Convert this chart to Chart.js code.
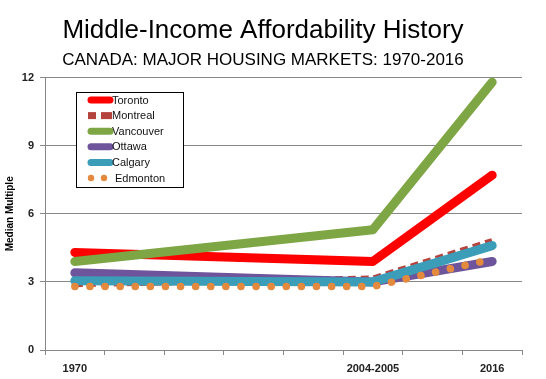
<!DOCTYPE html>
<html><head><meta charset="utf-8">
<script src="https://cdn.jsdelivr.net/npm/chart.js@4/dist/chart.umd.min.js"></script>
<style>html,body{margin:0;padding:0;background:#fff}#wrap{width:546px;height:379px;position:relative}</style>
</head><body><div id="wrap"><canvas id="c" width="546" height="379"></canvas></div>
<script>
const categories = ['1970', '', '', '', '', '2004-2005', '', '2016'];
const toronto   = [4.3, null, null, null, null, 3.9, null, 7.7];
const montreal  = [2.9, null, null, null, null, 3.15, null, 4.8];
const vancouver = [3.9, null, null, null, null, 5.3, null, 11.8];
const ottawa    = [3.4, null, null, null, null, 3.0, null, 3.9];
const calgary   = [3.05, null, null, null, null, 3.0, null, 4.6];
const edmonton  = [2.8, null, null, null, null, 2.8, null, 4.0];
const yTicks = [0, 3, 6, 9, 12];

const series = [
  {label:'Toronto', data:toronto, color:'#FF0000', width:9, dash:[], cap:'round'},
  {label:'Montreal', data:montreal, color:'#B5443F', width:6, dash:[8,5], cap:'butt'},
  {label:'Vancouver', data:vancouver, color:'#7EA645', width:9, dash:[], cap:'round'},
  {label:'Ottawa', data:ottawa, color:'#6E559B', width:9, dash:[], cap:'round'},
  {label:'Calgary', data:calgary, color:'#3C9DB8', width:9, dash:[], cap:'round'},
  {label:'Edmonton', data:edmonton, color:'#E38A3E', width:7.5, dash:[0.1,15], cap:'round'}
];

const legendPlugin = {
  id:'boxLegend',
  afterDraw(chart){
    const ctx = chart.ctx;
    const x0 = 76.5, y0 = 92.5, w = 107, h = 95;
    ctx.save();
    ctx.fillStyle = '#fff';
    ctx.fillRect(x0, y0, w, h);
    ctx.strokeStyle = '#000'; ctx.lineWidth = 1;
    ctx.strokeRect(x0, y0, w, h);
    series.forEach((s, i) => {
      const y = 100 + i * 15.6;
      ctx.strokeStyle = s.color;
      ctx.fillStyle = s.color;
      if (s.label === 'Edmonton') {
        [91, 104].forEach(cx => { ctx.beginPath(); ctx.arc(cx, y, 3.2, 0, Math.PI*2); ctx.fill(); });
      } else if (s.label === 'Montreal') {
        ctx.fillRect(88, y-3.5, 8, 7);
        ctx.fillRect(101, y-3.5, 11, 7);
      } else {
        ctx.lineWidth = 7; ctx.lineCap = 'round';
        ctx.beginPath(); ctx.moveTo(91, y); ctx.lineTo(110, y); ctx.stroke();
      }
      ctx.fillStyle = '#111';
      ctx.font = '11px "Liberation Sans", Arial, sans-serif';
      ctx.textBaseline = 'middle'; ctx.textAlign = 'left';
      ctx.fillText(s.label, s.label === 'Edmonton' ? 115 : 112, y + 0.5);
    });
    ctx.restore();
  }
};

new Chart(document.getElementById('c'), {
  type:'line',
  data:{
    labels:categories,
    datasets: series.map((s, i) => ({
      label:s.label, data:s.data, borderColor:s.color, backgroundColor:s.color,
      borderWidth:s.width, borderDash:s.dash, borderCapStyle:s.cap, borderJoinStyle:'round',
      pointRadius:0, pointHoverRadius:0, spanGaps:true, tension:0, fill:false,
      order: series.length - i
    }))
  },
  options:{
    responsive:false, animation:false,
    layout:{padding:{left:4, right:24, top:0, bottom:0}},
    plugins:{
      legend:{display:false}, tooltip:{enabled:false},
      title:{display:true, text:'Middle-Income Affordability History', color:'#000',
        font:{family:'"Liberation Sans", Arial, sans-serif', size:26, weight:'normal'}, padding:{top:15, bottom:4}},
      subtitle:{display:true, text:'CANADA: MAJOR HOUSING MARKETS: 1970-2016', color:'#000',
        font:{family:'"Liberation Sans", Arial, sans-serif', size:17, weight:'normal'}, padding:{top:0, bottom:7}}
    },
    scales:{
      x:{
        type:'category', offset:true,
        grid:{display:true, drawOnChartArea:false, offset:true, color:'#888', tickLength:5, lineWidth:1},
        border:{display:true, color:'#888', width:1},
        ticks:{color:'#222', autoSkip:false, maxRotation:0, padding:7,
          font:{family:'"Liberation Sans Narrow", "Liberation Sans", Arial, sans-serif', size:11, weight:'bold'}},
        afterFit(scale){ scale.height = 29; }
      },
      y:{
        min:0, max:12,
        afterBuildTicks(scale){ scale.ticks = yTicks.map(v => ({value:v})); },
        grid:{color:'#888', lineWidth:1, tickLength:5},
        border:{display:true, color:'#888', width:1},
        ticks:{color:'#222', padding:6,
          font:{family:'"Liberation Sans", Arial, sans-serif', size:11, weight:'bold'}},
        title:{display:true, text:'Median Multiple', color:'#000', padding:{top:0,bottom:4},
          font:{family:'"Liberation Sans", Arial, sans-serif', size:10, weight:'bold'}},
        afterFit(scale){ scale.width = 41; }
      }
    }
  },
  plugins:[legendPlugin]
});
</script></body></html>
